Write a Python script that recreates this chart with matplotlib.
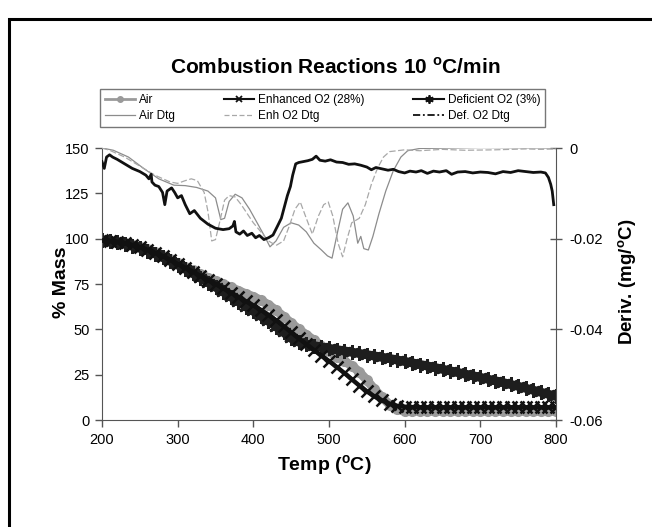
import matplotlib
matplotlib.use("Agg")
import matplotlib.pyplot as plt
from matplotlib.lines import Line2D
from matplotlib.patches import Rectangle

plt.rcParams['font.family'] = ['Liberation Sans', 'DejaVu Sans']
plt.rcParams['mathtext.fontset'] = 'custom'
plt.rcParams['mathtext.rm'] = 'Liberation Sans'
plt.rcParams['mathtext.bf'] = 'Liberation Sans:bold'

# ---------------- data ----------------
temp = list(range(200, 801, 10))

mass_air = [99, 98.8, 98.3, 97.6, 96.7, 95.5, 94.1, 92.5, 90.7, 88.7,
            86.5, 84.5, 82.5, 80.5, 78.5, 76.8, 75, 73.2, 71.4, 69.6,
            68, 66, 63.5, 60.5, 57, 53.5, 50, 47, 44, 41,
            37.8, 35, 32.5, 30, 26.5, 22, 17, 12.5, 8.5, 6,
            5, 4.9, 4.9, 4.8, 4.8, 4.8, 4.8, 4.8, 4.8, 4.8,
            4.8, 4.8, 4.8, 4.8, 4.8, 4.8, 4.8, 4.8, 4.8, 4.8, 4.8]

mass_enh = [99, 98.8, 98.3, 97.5, 96.5, 95.3, 93.9, 92.3, 90.4, 88.3,
            86, 84, 81.8, 79.5, 77.2, 75, 72.7, 70.3, 67.9, 65.5,
            63.2, 60.7, 58, 55, 51.8, 48.3, 45, 41.8, 38.6, 35.5,
            32.5, 29.3, 26, 22.5, 19, 15.8, 13, 10.8, 9, 7.8,
            7.3, 7.1, 7, 7, 7, 7, 7, 7, 7, 7,
            7, 7, 7, 7, 7, 7, 7, 7, 7, 7, 7]

mass_def = [99, 98.7, 98.1, 97.2, 96.1, 94.8, 93.3, 91.6, 89.7, 87.6,
            85.5, 83.2, 80.8, 78.3, 75.8, 73.3, 70.7, 68, 65.3, 62.5,
            60, 57.2, 54.5, 51.5, 48.3, 45, 43, 41.8, 41, 40.2,
            39.5, 38.8, 38.1, 37.4, 36.7, 36, 35.3, 34.6, 33.9, 33.1,
            32.3, 31.5, 30.6, 29.8, 28.9, 28, 27.1, 26.2, 25.3, 24.4,
            23.5, 22.5, 21.6, 20.6, 19.6, 18.6, 17.5, 16.4, 15.3, 14.2, 13]

air_dtg_t = [200, 215, 235, 255, 275, 295, 310, 325, 340, 350, 357, 362, 368, 376,
             385, 395, 405, 415, 422, 430, 440, 450, 460, 470, 480, 490, 498, 504,
             512, 518, 525, 532, 538, 542, 546, 552, 558, 566, 575, 585, 595, 604,
             620, 700, 800]
air_dtg = [0, -0.0005, -0.002, -0.0045, -0.0068, -0.0082, -0.0083, -0.0087, -0.0095,
           -0.011, -0.0158, -0.0155, -0.0118, -0.0102, -0.011, -0.0135, -0.0165,
           -0.0195, -0.0218, -0.0205, -0.0175, -0.0165, -0.017, -0.0185, -0.021,
           -0.0225, -0.0238, -0.0243, -0.018, -0.0135, -0.0121, -0.015, -0.021,
           -0.0195, -0.0222, -0.0225, -0.0195, -0.0145, -0.0095, -0.005, -0.002,
           -0.0006, -0.0001, 0.0001, 0]

enh_dtg_t = [200, 210, 230, 250, 270, 290, 300, 310, 318, 326, 335, 340, 345, 350,
             356, 362, 368, 376, 384, 392, 400, 410, 420, 430, 440, 448, 455, 462,
             470, 478, 486, 493, 499, 505, 512, 518, 524, 530, 540, 548, 556, 564,
             572, 580, 600, 620, 650, 680, 720, 760, 780, 800]
enh_dtg = [0, -0.0005, -0.002, -0.004, -0.006, -0.0075, -0.0078, -0.0072, -0.0068,
           -0.0072, -0.0098, -0.014, -0.0205, -0.0202, -0.016, -0.0115, -0.0105,
           -0.0108, -0.0125, -0.0145, -0.0165, -0.0185, -0.0205, -0.0215, -0.0205,
           -0.017, -0.0135, -0.0119, -0.0155, -0.019, -0.015, -0.0125, -0.0119,
           -0.015, -0.021, -0.024, -0.02, -0.0165, -0.0155, -0.0125, -0.008,
           -0.0045, -0.002, -0.0008, -0.0004, -0.0006, -0.0003, -0.0005, -0.0004,
           -0.0002, -0.0003, -0.0002]

def_dtg_t = [200, 203, 206, 210, 214, 220, 230, 240, 250, 258, 262, 265, 266, 270,
             275, 280, 283, 286, 292, 296, 300, 305, 310, 316, 322, 330, 340, 350,
             360, 368, 373, 375, 377, 382, 387, 392, 398, 403, 408, 414, 420, 426,
             432, 437, 441, 445, 449, 452, 456, 460, 466, 472, 478, 483, 488, 495,
             502, 510, 518, 526, 534, 542, 550, 556, 562, 570, 578, 585, 592, 600,
             607, 615, 622, 630, 638, 646, 655, 662, 670, 680, 690, 700, 710, 720,
             730, 740, 750, 760, 770, 780, 786, 790, 793, 795, 797]
def_dtg = [-0.003, -0.0045, -0.002, -0.0015, -0.002, -0.0025, -0.0035, -0.0045,
           -0.0052, -0.006, -0.0068, -0.0058, -0.0075, -0.0082, -0.0085, -0.0098,
           -0.0125, -0.0095, -0.0088, -0.0098, -0.011, -0.0105, -0.0125, -0.0145,
           -0.0138, -0.0155, -0.0168, -0.0177, -0.018, -0.0178, -0.0172, -0.0162,
           -0.0185, -0.019, -0.0183, -0.0193, -0.0188, -0.0198, -0.0193, -0.0202,
           -0.0198, -0.0192, -0.0172, -0.0155, -0.013, -0.0105, -0.0085, -0.006,
           -0.0035, -0.0032, -0.003, -0.0028, -0.0025, -0.0018, -0.0027, -0.0029,
           -0.0026, -0.0031, -0.0032, -0.0036, -0.0035, -0.0038, -0.0042, -0.0048,
           -0.0043, -0.0046, -0.0049, -0.0047, -0.0052, -0.0055, -0.0051, -0.0053,
           -0.005, -0.0056, -0.0051, -0.0053, -0.005, -0.0058, -0.0053, -0.0052,
           -0.0055, -0.0053, -0.0054, -0.0057, -0.0052, -0.0054, -0.005, -0.0052,
           -0.0054, -0.0053, -0.0055, -0.0065, -0.008, -0.0095, -0.0125]

x_ticks = [200, 300, 400, 500, 600, 700, 800]
y_ticks = [0, 25, 50, 75, 100, 125, 150]
y2_ticks = [-0.06, -0.04, -0.02, 0]
y2_labels = ['-0.06', '-0.04', '-0.02', '0']

# ---------------- figure ----------------
fig = plt.figure(figsize=(6.52, 5.27), dpi=100)
W, H = 652, 527
ax = fig.add_axes([102 / W, 1 - 420 / H, 454 / W, 272 / H])

c_air = '#9a9a9a'
ax.plot(temp, mass_air, color=c_air, lw=6.5, marker='o', ms=7, mfc=c_air, mec=c_air,
        zorder=2, solid_capstyle='butt')
ax.plot(temp, mass_def, color='#1e1e1e', lw=6.5, marker=(6, 2, 0), ms=10.5, mew=2,
        zorder=2.5)
ax.plot(temp, mass_enh, color='#111111', lw=3.2, marker='x', ms=8, mew=1.8, zorder=3)

ax.set_xlim(200, 800)
ax.set_ylim(0, 150)
ax.set_xticks(x_ticks)
ax.set_yticks(y_ticks)
ax.tick_params(axis='both', direction='out', length=5, width=1, color='#555555',
               labelsize=10.5, pad=4)
for s in ['top', 'right']:
    ax.spines[s].set_visible(False)
for s in ['left', 'bottom']:
    ax.spines[s].set_color('#555555')

ax2 = ax.twinx()
ax2.plot(air_dtg_t, air_dtg, color='#8c8c8c', lw=0.9)
ax2.plot(enh_dtg_t, enh_dtg, color='#a8a8a8', lw=0.9, dashes=(5, 2))
ax2.plot(def_dtg_t, def_dtg, color='#111111', lw=2)
ax2.set_ylim(-0.06, 0)
ax2.set_yticks(y2_ticks)
ax2.set_yticklabels(y2_labels)
ax2.tick_params(axis='y', direction='inout', length=9, width=1, color='#555555',
                labelsize=10.5, pad=5)
for s in ['top', 'left', 'bottom']:
    ax2.spines[s].set_visible(False)
ax2.spines['right'].set_color('#555555')

# titles / labels
fig.text(335 / W, 1 - 67 / H, r'Combustion Reactions 10 $^{\mathbf{o}}$C/min',
         ha='center', va='center', fontsize=15, fontweight='bold')
fig.text(62 / W, 1 - 282 / H, '% Mass', rotation=90, ha='center', va='center',
         fontsize=14, fontweight='bold')
fig.text(628 / W, 1 - 282 / H, r'Deriv. (mg/$^{\mathbf{o}}$C)', rotation=90,
         ha='center', va='center', fontsize=13.5, fontweight='bold')
fig.text(324 / W, 1 - 466 / H, r'Temp ($^{\mathbf{o}}$C)', ha='center', va='center',
         fontsize=14, fontweight='bold')

# legend
handles = [
    Line2D([], [], color=c_air, lw=2, marker='o', ms=4, mfc=c_air, mec=c_air),
    Line2D([], [], color='#8c8c8c', lw=0.9),
    Line2D([], [], color='#111111', lw=1.5, marker='x', ms=5, mew=1.3),
    Line2D([], [], color='#a8a8a8', lw=0.9, dashes=(4, 2)),
    Line2D([], [], color='#111111', lw=1.5, marker=(6, 2, 0), ms=6, mew=1.3),
    Line2D([], [], color='#111111', lw=1.3, dashes=(4, 1.5, 1, 1.5)),
]
labels = ['Air', 'Air Dtg', 'Enhanced O2 (28%)', 'Enh O2 Dtg',
          'Deficient O2 (3%)', 'Def. O2 Dtg']
leg = fig.legend(handles, labels, ncol=3, loc='lower left', mode='expand',
                 bbox_to_anchor=(100 / W, 1 - 127 / H, 445 / W, 44 / H),
                 fontsize=8.5, frameon=True, fancybox=False, handlelength=2.6,
                 handletextpad=0.3, borderaxespad=0, borderpad=0.4,
                 labelspacing=0.35, columnspacing=0.8)
leg.get_frame().set_edgecolor('#555555')
leg.get_frame().set_linewidth(1)

# outer border
fig.add_artist(Rectangle((9 / W, -0.02), 1.0, 1 - 19 / H + 0.02,
                         transform=fig.transFigure, fill=False, lw=2.2,
                         edgecolor='black'))

fig.savefig('out.png', dpi=100)
